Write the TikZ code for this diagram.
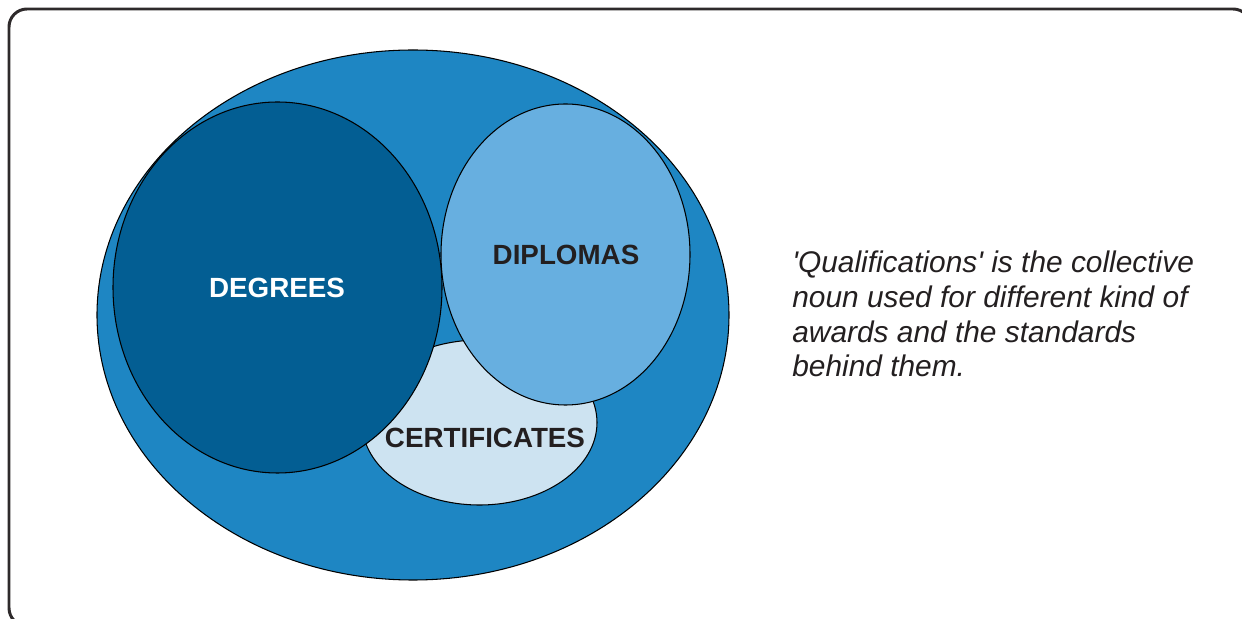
\documentclass[tikz,border=0pt]{standalone}
\usepackage{fontspec}
\setmainfont{Liberation Sans}
\usepackage{tikz}
\definecolor{qualblue}{RGB}{30,134,195}
\definecolor{degblue}{RGB}{3,94,147}
\definecolor{dipblue}{RGB}{103,175,224}
\definecolor{certblue}{RGB}{205,227,241}
\definecolor{inkgray}{RGB}{35,31,32}
\tikzset{
  blob/.style={draw=black, line width=0.6pt},
  label/.style={font=\bfseries\fontsize{15.8}{19}\selectfont, inner sep=0pt},
}

\begin{document}
\begin{tikzpicture}
		%%%%% START %%%%%
		\useasboundingbox (0, 0) rectangle (24.84, 12.38);
		\clip (0, 0) rectangle (24.84, 12.38);
		
		\draw[line width=1.7pt, draw=inkgray!95, rounded corners=0.36cm] (0.18, 12.2) rectangle (25.02, -0.14);
		
		\draw[blob, fill=qualblue] (8.26, 6.08) ellipse (6.32 and 5.30);
		\draw[blob, fill=certblue] (9.59, 3.93) ellipse (2.35 and 1.65);
		\draw[blob, fill=degblue] (5.55, 6.63) ellipse (3.29 and 3.71);
		\draw[blob, fill=dipblue] (11.31, 7.29) ellipse (2.49 and 3.01);
		
		\node[label, text=white] (degrees) at (5.54, 6.62) {DEGREES};
		\node[label, text=inkgray] (diplomas) at (11.32, 7.28) {DIPLOMAS};
		\node[label, text=inkgray] (certificates) at (9.70, 3.62) {CERTIFICATES};
		
		\node[anchor=north west, inner sep=0pt, align=left, text=inkgray,
		      font=\itshape\fontsize{17}{19.7}\selectfont] (note) at (15.84, 7.36)
		      {\textquotesingle Qualifications\textquotesingle{} is the collective\\
		       noun used for different kind of\\
		       awards and the standards\\
		       behind them.};
		%%%%% END %%%%%
	\end{tikzpicture}
\end{document}
